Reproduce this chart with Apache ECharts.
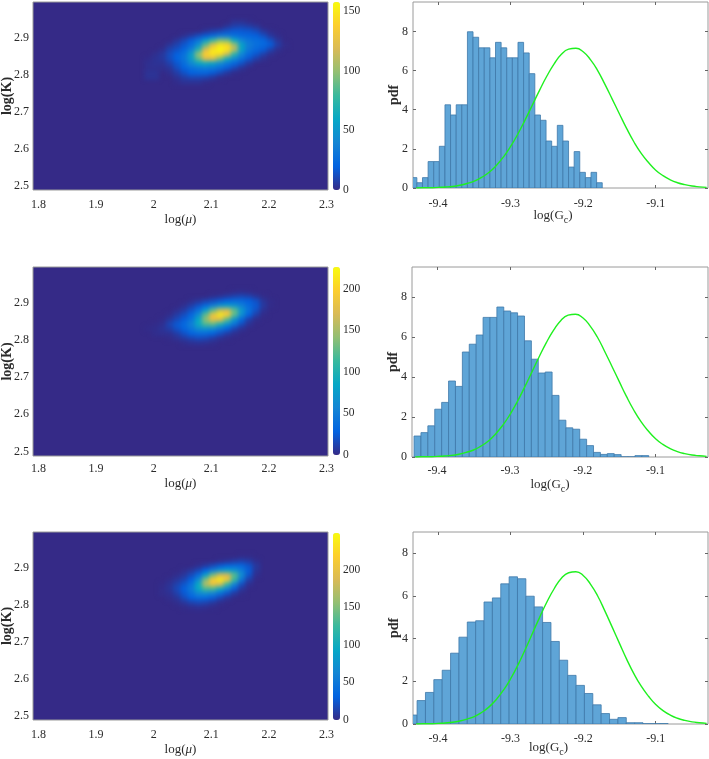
<!DOCTYPE html>
<html>
<head>
<meta charset="utf-8">
<script src="https://cdn.jsdelivr.net/npm/echarts@6/dist/echarts.min.js"></script>
<style>
    html, body { margin: 0; padding: 0; background: #fff; }
    #wrap { position: relative; width: 709px; height: 759px; overflow: hidden; }
    #main { position: absolute; left: 0; top: 0; width: 709px; height: 759px; z-index: 2; }
    .heatClip { position: absolute; overflow: hidden; background: #352a87; z-index: 1; }
    .heatChart { width: 100%; height: 100%; filter: blur(2px); }
</style>
</head>
<body>
<div id="wrap"><div id="main"></div></div>
<script>
// ============================================
// DATA
// ============================================

const heatXTicks = [1.8, 1.9, 2, 2.1, 2.2, 2.3];
const heatYTicks = [2.5, 2.6, 2.7, 2.8, 2.9];
const histXTicks = [-9.4, -9.3, -9.2, -9.1];
const histYTicks = [0, 2, 4, 6, 8];

// centres of the density cells
const cellX = [1.99, 2.0025, 2.015, 2.0275, 2.04, 2.0525, 2.065, 2.0775, 2.09, 2.1025,
    2.115, 2.1275, 2.14, 2.1525, 2.165, 2.1775, 2.19, 2.2025, 2.215, 2.2275];
const cellY = [2.9425, 2.93, 2.9175, 2.905, 2.8925, 2.88, 2.8675, 2.855, 2.8425, 2.83,
    2.8175, 2.805, 2.7925, 2.78];

const density1 = [
    [0, 0, 0, 0, 0, 0, 0, 0, 0, 0, 0, 0, 3, 3, 1, 0, 0, 0, 0, 0],
    [0, 0, 0, 0, 0, 0, 0, 0, 0, 0, 0, 4, 8, 9, 7, 4, 0, 0, 0, 0],
    [0, 0, 0, 0, 0, 0, 0, 0, 3, 7, 10, 14, 17, 17, 16, 12, 5, 1, 0, 0],
    [0, 0, 0, 0, 0, 2, 6, 12, 17, 24, 32, 32, 27, 24, 22, 19, 13, 5, 1, 0],
    [0, 0, 0, 0, 4, 10, 18, 30, 52, 78, 95, 92, 62, 40, 30, 26, 22, 13, 4, 0],
    [0, 0, 0, 4, 9, 16, 26, 47, 88, 125, 148, 142, 102, 57, 35, 28, 24, 18, 7, 1],
    [0, 0, 2, 9, 14, 22, 37, 72, 120, 148, 157, 148, 109, 57, 32, 24, 18, 9, 2, 0],
    [0, 2, 5, 12, 19, 28, 52, 99, 138, 148, 142, 114, 72, 40, 24, 16, 8, 2, 0, 0],
    [1, 3, 5, 12, 20, 30, 52, 87, 120, 120, 92, 64, 42, 27, 16, 7, 2, 0, 0, 0],
    [2, 3, 3, 8, 16, 26, 42, 57, 62, 57, 44, 32, 22, 14, 5, 0, 0, 0, 0, 0],
    [2, 2, 2, 4, 12, 20, 28, 32, 34, 32, 26, 18, 10, 3, 0, 0, 0, 0, 0, 0],
    [3, 3, 0, 2, 7, 14, 20, 22, 22, 18, 12, 5, 1, 0, 0, 0, 0, 0, 0, 0],
    [3, 3, 0, 0, 3, 7, 10, 10, 9, 5, 1, 0, 0, 0, 0, 0, 0, 0, 0, 0],
    [0, 0, 0, 0, 1, 3, 3, 3, 1, 0, 0, 0, 0, 0, 0, 0, 0, 0, 0, 0]
];
const density2 = [
    [0, 0, 0, 0, 0, 0, 0, 0, 0, 0, 0, 0, 0, 0, 0, 0, 0, 0, 0, 0],
    [0, 0, 0, 0, 0, 0, 0, 0, 0, 0, 0, 0, 1, 2, 1, 0, 0, 0, 0, 0],
    [0, 0, 0, 0, 0, 0, 0, 0, 0, 2, 4, 8, 12, 14, 12, 6, 1, 0, 0, 0],
    [0, 0, 0, 0, 0, 0, 2, 6, 12, 18, 24, 30, 34, 34, 28, 20, 6, 1, 0, 0],
    [0, 0, 0, 0, 0, 3, 10, 20, 34, 50, 68, 75, 68, 52, 36, 24, 8, 1, 0, 0],
    [0, 0, 0, 0, 3, 9, 20, 38, 75, 125, 160, 165, 125, 72, 40, 20, 4, 0, 0, 0],
    [0, 0, 0, 2, 9, 18, 32, 62, 125, 185, 215, 195, 125, 65, 30, 11, 1, 0, 0, 0],
    [0, 0, 1, 7, 16, 26, 42, 85, 140, 182, 176, 125, 70, 34, 12, 2, 0, 0, 0, 0],
    [0, 1, 3, 14, 24, 34, 52, 88, 120, 125, 100, 70, 42, 18, 4, 0, 0, 0, 0, 0],
    [1, 2, 5, 10, 20, 30, 44, 62, 68, 62, 46, 30, 14, 4, 0, 0, 0, 0, 0, 0],
    [0, 2, 3, 4, 10, 20, 30, 36, 36, 30, 20, 10, 3, 0, 0, 0, 0, 0, 0, 0],
    [0, 0, 0, 1, 4, 9, 14, 18, 16, 10, 4, 1, 0, 0, 0, 0, 0, 0, 0, 0],
    [0, 0, 0, 0, 0, 2, 4, 5, 4, 2, 0, 0, 0, 0, 0, 0, 0, 0, 0, 0],
    [0, 0, 0, 0, 0, 0, 0, 0, 0, 0, 0, 0, 0, 0, 0, 0, 0, 0, 0, 0]
];
const density3 = [
    [0, 0, 0, 0, 0, 0, 0, 0, 0, 0, 0, 0, 0, 0, 0, 0, 0, 0, 0, 0],
    [0, 0, 0, 0, 0, 0, 0, 0, 0, 0, 0, 0, 0, 1, 1, 0, 0, 0, 0, 0],
    [0, 0, 0, 0, 0, 0, 0, 0, 0, 0, 2, 5, 10, 13, 10, 3, 0, 0, 0, 0],
    [0, 0, 0, 0, 0, 0, 0, 3, 9, 18, 27, 34, 38, 36, 24, 8, 0, 0, 0, 0],
    [0, 0, 0, 0, 0, 2, 7, 16, 32, 55, 76, 85, 76, 54, 28, 6, 0, 0, 0, 0],
    [0, 0, 0, 0, 2, 7, 18, 38, 85, 145, 185, 185, 135, 70, 24, 3, 0, 0, 0, 0],
    [0, 0, 0, 2, 7, 15, 30, 68, 148, 215, 238, 208, 125, 50, 12, 0, 0, 0, 0, 0],
    [0, 0, 1, 5, 13, 24, 44, 95, 170, 203, 188, 125, 62, 20, 3, 0, 0, 0, 0, 0],
    [0, 0, 2, 6, 17, 30, 52, 95, 130, 130, 100, 62, 28, 7, 0, 0, 0, 0, 0, 0],
    [0, 0, 2, 4, 12, 26, 44, 65, 72, 62, 44, 24, 8, 1, 0, 0, 0, 0, 0, 0],
    [0, 0, 0, 2, 6, 18, 30, 38, 36, 28, 16, 5, 0, 0, 0, 0, 0, 0, 0, 0],
    [0, 0, 0, 0, 2, 7, 13, 17, 14, 8, 2, 0, 0, 0, 0, 0, 0, 0, 0, 0],
    [0, 0, 0, 0, 0, 1, 3, 4, 3, 1, 0, 0, 0, 0, 0, 0, 0, 0, 0, 0],
    [0, 0, 0, 0, 0, 0, 0, 0, 0, 0, 0, 0, 0, 0, 0, 0, 0, 0, 0, 0]
];

const densityMax = [157.6, 226, 249];
const colorbarTicks1 = [0, 50, 100, 150];
const colorbarTicks2 = [0, 50, 100, 150, 200];
const colorbarTicks3 = [0, 50, 100, 150, 200];

// histogram bins: first left edge, bin width, pdf of each bin
const binStart = [-9.4369, -9.4317, -9.4404];
const binWidth = [0.00774, 0.00948, 0.01153];
const pdf1 = [0.53, 0.27, 0.53, 1.35, 1.35, 2.13, 4.25, 3.73, 4.25, 4.25, 7.98, 7.7, 7.16, 7.16,
    6.65, 7.44, 7.16, 6.65, 6.65, 7.44, 6.9, 5.84, 3.73, 3.46, 2.4, 2.13, 3.2, 2.4, 1.07, 1.86,
    0.8, 0.53, 0.8, 0.27];
const pdf2 = [1.05, 1.22, 1.56, 2.39, 2.73, 3.8, 3.53, 5.25, 5.64, 6.1, 6.98, 6.98, 7.5, 7.3,
    7.21, 7.05, 5.81, 4.89, 4.2, 4.25, 3.08, 1.84, 1.46, 1.39, 0.89, 0.57, 0.23, 0.13, 0.17,
    0.12, 0.01, 0.01, 0.07, 0.07];
const pdf3 = [0.42, 1.1, 1.48, 2.08, 2.52, 3.32, 4.07, 4.78, 4.84, 5.72, 5.91, 6.57, 6.9, 6.81,
    5.99, 5.49, 4.76, 3.87, 2.99, 2.28, 1.81, 1.43, 0.9, 0.49, 0.22, 0.3, 0.06, 0.06, 0.015,
    0.015, 0.02];

// green curve, same in all three histograms
const curveX = [-9.43, -9.42, -9.41, -9.4, -9.39, -9.38, -9.37, -9.36, -9.35, -9.34, -9.33,
    -9.32, -9.31, -9.3, -9.29, -9.28, -9.27, -9.26, -9.25, -9.24, -9.23, -9.22, -9.21, -9.2,
    -9.19, -9.18, -9.17, -9.16, -9.15, -9.14, -9.13, -9.12, -9.11, -9.1, -9.09, -9.08, -9.07,
    -9.06, -9.05, -9.04, -9.03];
const curveY = [0, 0.01, 0.01, 0.03, 0.05, 0.08, 0.14, 0.23, 0.35, 0.54, 0.79,
    1.14, 1.58, 2.12, 2.76, 3.48, 4.24, 5, 5.72, 6.34, 6.83, 7.09, 7.14, 6.96,
    6.56, 6, 5.29, 4.54, 3.78, 3.03, 2.35, 1.77, 1.3, 0.91, 0.63, 0.42, 0.27,
    0.17, 0.1, 0.06, 0.03];

// ============================================
// LAYOUT AND STYLE
// ============================================

const parula = ['#352a87', '#0363e1', '#1485d4', '#06a7c6', '#38b99e', '#92bf73', '#d9ba56', '#fcce2e', '#f9fb0e'];
const serif = 'Liberation Serif';
const textColor = '#2b2b2b';
const frameColor = '#9a9a9a';

const heatXRange = [1.7905, 2.3025];
const heatYRange = [2.488, 2.996];
const cellW = 0.0125;
const cellH = 0.0125;

const heatRects = [
    { left: 33, top: 2, width: 295, height: 188 },
    { left: 33, top: 267, width: 295, height: 189 },
    { left: 33, top: 532, width: 295, height: 188 }
];
const barRects = [
    { left: 333, top: 2, width: 7, height: 188 },
    { left: 333, top: 267, width: 7, height: 188 },
    { left: 333, top: 533, width: 7, height: 187 }
];
const histRects = [
    { left: 413, top: 2, width: 295, height: 186 },
    { left: 412, top: 267, width: 296, height: 190 },
    { left: 413, top: 532, width: 295, height: 192 }
];
const histXRange = [-9.4345, -9.028];
const histYMax = [9.5, 9.5, 9];

const heatLabelMargin = [9, 7, 9];
const heatNameGap = [23, 21, 23];
const histLabelMargin = [10, 8, 9];
const histNameGap = [18, 18, 14];
const histNamePad = [[0, 15, 0, 0], [0, 20, 0, 0], [0, 24, 0, 0]];

const densities = [density1, density2, density3];
const colorbarTicks = [colorbarTicks1, colorbarTicks2, colorbarTicks3];
const pdfs = [pdf1, pdf2, pdf3];

// ============================================
// DENSITY PANELS (one blurred chart per panel, under the axes)
// ============================================

function renderDensityPanel(panel) {
    const rect = heatRects[panel];
    const clip = document.createElement('div');
    clip.className = 'heatClip';
    clip.style.left = rect.left + 'px';
    clip.style.top = rect.top + 'px';
    clip.style.width = rect.width + 'px';
    clip.style.height = rect.height + 'px';
    const dom = document.createElement('div');
    dom.className = 'heatChart';
    clip.appendChild(dom);
    document.getElementById('wrap').appendChild(clip);

    const cells = [];
    densities[panel].forEach((row, r) => {
        row.forEach((v, c) => {
            if (v > 0) cells.push([cellX[c], cellY[r], v]);
        });
    });

    const chart = echarts.init(dom);
    chart.setOption({
        animation: false,
        grid: { left: 0, right: 0, top: 0, bottom: 0, outerBoundsMode: 'none' },
        xAxis: { type: 'value', min: heatXRange[0], max: heatXRange[1], show: false },
        yAxis: { type: 'value', min: heatYRange[0], max: heatYRange[1], show: false },
        visualMap: {
            show: false,
            dimension: 2,
            min: 0,
            max: densityMax[panel],
            inRange: { color: parula }
        },
        series: [{
            type: 'custom',
            data: cells,
            renderItem: (params, api) => {
                const p = api.coord([api.value(0) - cellW / 2, api.value(1) + cellH / 2]);
                const s = api.size([cellW, cellH]);
                return {
                    type: 'rect',
                    shape: { x: p[0], y: p[1], width: s[0] + 0.5, height: s[1] + 0.5 },
                    style: { fill: api.visual('color') }
                };
            }
        }]
    });
}

// ============================================
// AXES, COLORBARS AND HISTOGRAMS
// ============================================

const grids = [];
const xAxes = [];
const yAxes = [];
const series = [];
const visualMaps = [];

function tickLabel(values, extra) {
    return Object.assign({
        customValues: values,
        fontFamily: serif,
        fontSize: 12,
        color: textColor,
        margin: 5
    }, extra);
}

function addHeatAxes(panel) {
    const r = heatRects[panel];
    grids.push(Object.assign({ show: true, borderColor: frameColor, borderWidth: 1, backgroundColor: 'transparent', outerBoundsMode: 'none' }, r));
    const gridIndex = grids.length - 1;
    xAxes.push({
        type: 'value', gridIndex, min: heatXRange[0], max: heatXRange[1],
        splitLine: { show: false }, axisLine: { show: false }, axisTick: { show: false },
        axisLabel: tickLabel(heatXTicks, { margin: heatLabelMargin[panel] }),
        name: 'log({i|μ})', nameLocation: 'middle', nameGap: heatNameGap[panel], nameMoveOverlap: false,
        nameTextStyle: {
            fontFamily: serif, fontSize: 13, color: textColor,
            rich: { i: { fontFamily: serif, fontSize: 13, fontStyle: 'italic', color: textColor } }
        }
    });
    yAxes.push({
        type: 'value', gridIndex, min: heatYRange[0], max: heatYRange[1],
        splitLine: { show: false }, axisLine: { show: false }, axisTick: { show: false },
        axisLabel: tickLabel(heatYTicks, { margin: 4 }),
        name: 'log(K)', nameLocation: 'middle', nameGap: 19, nameRotate: 90, nameMoveOverlap: false,
        nameTextStyle: { fontFamily: serif, fontSize: 14, fontWeight: 'bold', color: textColor }
    });
}

function addColorbar(panel) {
    const r = barRects[panel];
    visualMaps.push({
        type: 'continuous',
        seriesIndex: [],
        min: 0,
        max: densityMax[panel],
        left: r.left,
        top: r.top,
        padding: 0,
        itemWidth: r.width,
        itemHeight: r.height,
        calculable: false,
        hoverLink: false,
        text: null,
        inRange: { color: parula }
    });
    grids.push(Object.assign({ show: false, outerBoundsMode: 'none' }, r));
    const gridIndex = grids.length - 1;
    xAxes.push({ type: 'value', gridIndex, min: 0, max: 1, show: false });
    yAxes.push({
        type: 'value', gridIndex, min: 0, max: densityMax[panel], position: 'right',
        splitLine: { show: false }, axisLine: { show: false }, axisTick: { show: false },
        axisLabel: tickLabel(colorbarTicks[panel], { margin: 3, fontSize: 11.5 })
    });
}

function addHistogram(panel) {
    const r = histRects[panel];
    const yRange = [0, histYMax[panel]];
    grids.push(Object.assign({ show: true, borderColor: frameColor, borderWidth: 1, backgroundColor: 'transparent', outerBoundsMode: 'none' }, r));
    const gridIndex = grids.length - 1;
    const tick = { show: true, inside: true, length: 3, lineStyle: { color: '#666', width: 1 } };

    const xIndex = xAxes.length;
    xAxes.push({
        type: 'value', gridIndex, min: histXRange[0], max: histXRange[1],
        splitLine: { show: false }, axisLine: { show: false },
        axisTick: Object.assign({ customValues: histXTicks }, tick),
        axisLabel: tickLabel(histXTicks, { margin: histLabelMargin[panel] }),
        name: 'log(G{s|c})', nameLocation: 'middle', nameGap: histNameGap[panel], nameMoveOverlap: false,
        nameTextStyle: {
            fontFamily: serif, fontSize: 13, color: textColor, padding: histNamePad[panel],
            rich: { s: { fontFamily: serif, fontSize: 10, color: textColor, padding: [9, 0, 0, 0] } }
        }
    });
    // mirrored ticks on top and right, like a boxed matlab axes
    xAxes.push({
        type: 'value', gridIndex, min: histXRange[0], max: histXRange[1], position: 'top',
        splitLine: { show: false }, axisLine: { show: false, onZero: false },
        axisTick: Object.assign({ customValues: histXTicks }, tick),
        axisLabel: { show: false }
    });

    const yIndex = yAxes.length;
    yAxes.push({
        type: 'value', gridIndex, min: yRange[0], max: yRange[1],
        splitLine: { show: false }, axisLine: { show: false, onZero: false },
        axisTick: Object.assign({ customValues: histYTicks }, tick),
        axisLabel: tickLabel(histYTicks, { margin: 5 }),
        name: 'pdf', nameLocation: 'middle', nameGap: 12, nameRotate: 90, nameMoveOverlap: false,
        nameTextStyle: { fontFamily: serif, fontSize: 14, fontWeight: 'bold', color: textColor }
    });
    yAxes.push({
        type: 'value', gridIndex, min: yRange[0], max: yRange[1], position: 'right',
        splitLine: { show: false }, axisLine: { show: false, onZero: false },
        axisTick: Object.assign({ customValues: histYTicks }, tick),
        axisLabel: { show: false }
    });

    const bins = pdfs[panel].map((v, i) => [
        binStart[panel] + i * binWidth[panel],
        binStart[panel] + (i + 1) * binWidth[panel],
        v
    ]);
    series.push({
        type: 'custom',
        xAxisIndex: xIndex,
        yAxisIndex: yIndex,
        clip: true,
        silent: true,
        data: bins,
        renderItem: (params, api) => {
            const a = api.coord([api.value(0), api.value(2)]);
            const b = api.coord([api.value(1), 0]);
            return {
                type: 'rect',
                shape: { x: a[0], y: a[1], width: b[0] - a[0], height: b[1] - a[1] },
                style: { fill: '#5fa5d7', stroke: '#3f79a9', lineWidth: 0.8 }
            };
        }
    });
    series.push({
        type: 'line',
        xAxisIndex: xIndex,
        yAxisIndex: yIndex,
        data: curveX.map((x, i) => [x, curveY[i]]),
        smooth: true,
        showSymbol: false,
        silent: true,
        z: 5,
        lineStyle: { color: '#1ff01f', width: 1.4 }
    });
}

[0, 1, 2].forEach(panel => {
    renderDensityPanel(panel);
    addHeatAxes(panel);
    addColorbar(panel);
    addHistogram(panel);
});

const mainChart = echarts.init(document.getElementById('main'));
mainChart.setOption({
    animation: false,
    grid: grids,
    xAxis: xAxes,
    yAxis: yAxes,
    visualMap: visualMaps,
    series: series
});
</script>
</body>
</html>
